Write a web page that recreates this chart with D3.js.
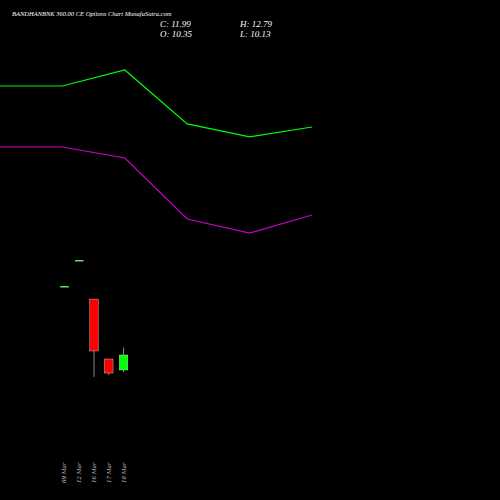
<!DOCTYPE html>
<html><head><meta charset="utf-8">
<script src="https://cdn.jsdelivr.net/npm/d3@7"></script>
<style>body{margin:0;background:#000}</style>
</head><body><div id="chart"></div>
<script>
const dates = ["09 Mar", "12 Mar", "16 Mar", "17 Mar", "18 Mar"];
const opens = [19.53, 22.37, 18.1, 11.55, 10.35];
const closes = [19.53, 22.37, 12.43, 10.02, 11.99];
const highs = [19.53, 22.37, 18.1, 11.55, 12.79];
const lows = [19.53, 22.37, 9.6, 9.8, 10.13];
const greenLine = [41.39, 41.39, 43.14, 37.24, 35.82, 36.91];
const purpleLine = [34.72, 34.72, 33.52, 26.85, 25.32, 27.29];

const svg = d3.select("#chart").append("svg")
    .attr("width", 500).attr("height", 500)
    .style("background", "#000");

const x = d3.scaleBand().domain(dates).range([54, 134]).padding(0.42);
const y = d3.scaleLinear().domain([0, 50]).range([464.7, 7.2]);
const xl = d3.scaleLinear().domain([0, 5]).range([0, 312]);

const line = d3.line().x((d, i) => xl(i)).y(d => y(d));
svg.append("path").datum(greenLine).attr("fill", "none")
    .attr("stroke", "#00ff00").attr("stroke-width", 1.2).attr("d", line);
svg.append("path").datum(purpleLine).attr("fill", "none")
    .attr("stroke", "#cc00cc").attr("stroke-width", 1.2).attr("d", line);

dates.forEach((d, i) => {
    const cx = x(d) + x.bandwidth() / 2;
    const up = closes[i] >= opens[i];
    const col = opens[i] === closes[i] ? "#66dd66" : (up ? "#00ff00" : "#ff0000");
    svg.append("line").attr("x1", cx).attr("x2", cx)
        .attr("y1", y(highs[i])).attr("y2", y(lows[i]))
        .attr("stroke", "#888").attr("stroke-width", 1);
    const top = y(Math.max(opens[i], closes[i]));
    const h = Math.max(1.5, y(Math.min(opens[i], closes[i])) - top);
    svg.append("rect").attr("x", x(d)).attr("y", top)
        .attr("width", x.bandwidth()).attr("height", h)
        .attr("fill", col).attr("stroke", opens[i] === closes[i] ? "none" : "#ddd")
        .attr("stroke-width", 0.4);
    svg.append("text")
        .attr("transform", `translate(${cx + 2},483) rotate(-90)`)
        .attr("fill", "#ccc").attr("font-family", "DejaVu Serif, serif")
        .attr("font-style", "italic").attr("font-size", 5.5)
        .text(d);
});

const tf = "Liberation Serif, serif";
svg.append("text").attr("x", 12).attr("y", 16).attr("fill", "#fff")
    .attr("font-family", tf).attr("font-style", "italic").attr("font-size", 6.5)
    .text("BANDHANBNK 360.00  CE Options  Chart MunafaSutra.com");
[["C: 11.99", 160, 27], ["O: 10.35", 160, 37], ["H: 12.79", 240, 27], ["L: 10.13", 240, 37]]
    .forEach(t => svg.append("text").attr("x", t[1]).attr("y", t[2])
        .attr("fill", "#fff").attr("font-family", tf).attr("font-style", "italic")
        .attr("font-size", 9).text(t[0]));
</script></body></html>
